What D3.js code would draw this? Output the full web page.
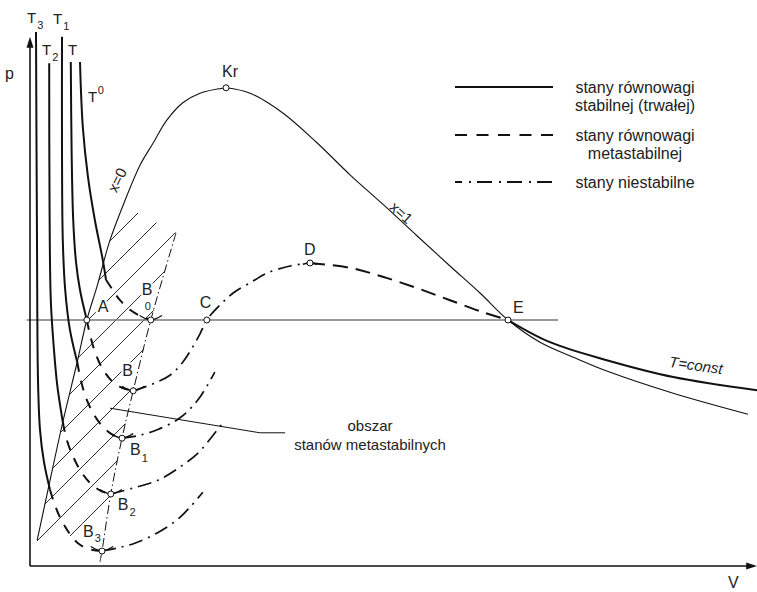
<!DOCTYPE html>
<html>
<head>
<meta charset="utf-8">
<script src="https://cdn.jsdelivr.net/npm/d3@7"></script>
<style>
  body { margin: 0; background: #fff; }
  svg { display: block; }
  text { font-family: "Liberation Sans", Arial, sans-serif; fill: #222; }
</style>
</head>
<body>
<svg id="chart" width="757" height="592"></svg>
<script>
// Schematic p–V diagram of a real fluid: van der Waals isotherms,
// saturation curve (x=0 / x=1) and the region of metastable states.
// Units are arbitrary: V along the horizontal axis, p along the vertical one.

const satPressure = 41;            // pressure of the straight line A – C – E
const axisEndV = 90.9;             // arrow tip of the V axis
const axisEndP = 88.2;             // arrow tip of the p axis

// saturation curve
const liquidLine = [[0.9,4.3],[2.25,12.7],[4.1,24],[5.9,34],[7.1,41],[8.4,46.7],[10,54.3],
  [11.9,61],[13.75,66.8],[15.4,70.5],[17.1,74.3],[19.1,77.2],[21.25,78.8],[24.5,79.7]];
const vapourLine = [[24.5,79.7],[27.5,78.8],[31.6,75.5],[35.9,70.5],[40,65.2],[44.1,60.3],
  [48.4,55],[52.5,50],[56.25,45.5],[59.75,41],[63.75,37.3],[68.1,34.7],[72.1,32.5],[80.4,28.8],[89.75,25.3]];

// isotherm T3
const t3Stable   = [[0.75,89],[0.88,52.7],[1,31],[1.25,22.7],[1.75,17.3],[2.5,12.7]];
const t3Meta     = [[2.5,12.7],[3.1,10.2],[3.9,7.7],[4.9,5.5],[6,3.8],[7.4,2.8],[9,2.5]];
const t3Unstable = [[9,2.5],[10.9,3],[13.1,3.8],[15.9,5.5],[18.4,7.7],[20,9.8],[21.6,12.3]];
// isotherm T2
const t2Stable   = [[2.4,83.8],[2.44,61],[2.6,44.3],[3,36],[3.4,30.2],[4.1,24]];
const t2Meta     = [[4.1,24],[4.6,21],[5.4,18.2],[6.4,15.7],[7.6,13.7],[8.9,12.5],[10.1,12]];
const t2Unstable = [[10.1,12],[12.9,13],[16,14.3],[18.75,16.5],[20.9,18.7],[22.6,21.3],[24,23.7]];
// isotherm T1
const t1Stable   = [[4,88.2],[4,69.3],[4.1,54.3],[4.4,46],[5,39.3],[5.9,34]];
const t1Meta     = [[5.9,34],[6.4,30.7],[7.1,27.7],[8.1,25],[9.25,23],[10.4,21.8],[11.5,21.3]];
const t1Unstable = [[11.5,21.3],[13.4,21.7],[15.9,22.7],[18.75,24.7],[21,27.7],[23.1,32.3]];
// isotherm T (the full van der Waals loop)
const tStable       = [[5.1,84],[5.2,69.3],[5.4,57.7],[5.75,50.7],[6.25,46],[7.1,41]];
const tMeta         = [[7.1,41],[7.6,38],[8.25,35.2],[9.1,32.8],[10.25,30.8],[11.5,29.7],[12.9,29.2]];
const tUnstable     = [[12.9,29.2],[15.25,30.3],[17.5,31.8],[19,33.8],[20.25,36.3],[21.25,38.7],[22.1,41],
  [23.75,43.5],[25.4,45.5],[27.9,47.5],[29.6,48.8],[32.5,50],[35,50.5]];
const tMetaVapour   = [[35,50.5],[40,49.7],[44.1,48.2],[48.4,46.3],[52.5,44.3],[56.6,42.3],[59.75,41]];
const tStableVapour = [[59.75,41],[65,37.3],[72.1,34.3],[80.4,31.5],[90.9,29.3]];
// isotherm T0
const t0Stable = [[6.25,84],[6.6,73.2],[7.25,64.8],[8.1,57.7],[9.1,51],[9.5,47.7]];
const t0Meta   = [[9.5,47.7],[10.25,46.2],[11.25,44.3],[12.5,42.7],[13.75,41.7],[15.1,41]];

// locus of the minima B0 … B3 (limit of the metastable region)
const spinodal = [[18.25,55.5],[15.1,41],[12.9,29.2],[11.5,21.3],[10.1,12],[9,2.5],[8.75,0.7]];

// hatching of the metastable region
const hatchSegments = [
  [[10,54.17],[13.5,58.83]], [[8.575,47.6],[15.8,57.23]], [[7.09,40.78],[18.19,55.58]],
  [[5.99,34.67],[16.89,49.18]], [[4.93,28.57],[15.48,42.63]], [[3.84,22.28],[14.19,36.08]],
  [[2.85,16.3],[13,29.83]], [[1.86,10.32],[11.93,23.73]], [[0.875,4.17],[10.95,17.6]],
  [[5,5],[10.19,11.92]]
];
const leaderLine = [[10,26.3],[28.75,22.2],[31.9,22.2]];

// named points: label, V, p
const keyPoints = [["Kr",24.5,79.7],["A",7.1,41],["B0",15.1,41],["C",22.1,41],["D",35,50.5],
  ["E",59.75,41],["B",12.9,29.2],["B1",11.5,21.3],["B2",10.1,12],["B3",9,2.5]];
const minimaNames = ["B0","B","B1","B2","B3"];

// legend
const legendItems = [
  {lines: ["stany równowagi", "stabilnej (trwałej)"], style: "stable"},
  {lines: ["stany równowagi", "metastabilnej"], style: "meta"},
  {lines: ["stany niestabilne"], style: "unstable"}
];

const svg = d3.select("#chart");
const x = d3.scaleLinear().domain([0, 90]).range([30, 750]);
const y = d3.scaleLinear().domain([0, 92]).range([566, 14]);

const smooth = d3.line().x(d => x(d[0])).y(d => y(d[1])).curve(d3.curveCatmullRom.alpha(0.5));
const straight = d3.line().x(d => x(d[0])).y(d => y(d[1]));
const natural = d3.line().x(d => x(d[0])).y(d => y(d[1])).curve(d3.curveNatural);

const styles = {
  stable:   {w: 2,   dash: null},
  meta:     {w: 2,   dash: "10,9"},
  metaLong: {w: 2,   dash: "15,8"},
  unstable: {w: 1.7, dash: "14,6,2,6"},
  thin:     {w: 1.1, dash: null}
};

function draw(data, style, gen = smooth, color = "#111") {
  svg.append("path")
    .attr("d", gen(data))
    .attr("fill", "none")
    .attr("stroke", color)
    .attr("stroke-width", style.w)
    .attr("stroke-dasharray", style.dash);
}

// hatching
hatchSegments.forEach(s => draw(s, {w: 0.9, dash: null}, straight));

// saturation curve
draw(liquidLine, styles.thin);
draw(vapourLine, styles.thin);

// line of constant saturation pressure
svg.append("line")
  .attr("x1", x(-0.4)).attr("x2", x(66))
  .attr("y1", y(satPressure)).attr("y2", y(satPressure))
  .attr("stroke", "#7a7a7a").attr("stroke-width", 1.6);

// limit of metastable states
draw(spinodal, {w: 1, dash: "9,3,1.5,3"});

// leader to the region label
draw(leaderLine, {w: 1, dash: null}, straight);

// isotherms
[t3Stable, t2Stable, t1Stable, tStable, t0Stable, tStableVapour].forEach(d => draw(d, styles.stable));
[t3Meta, t2Meta, t1Meta, tMeta, t0Meta].forEach(d => draw(d, styles.meta));
draw(tMetaVapour, styles.metaLong);
[t3Unstable, t2Unstable, t1Unstable, tUnstable].forEach(d => draw(d, styles.unstable));

// short solid arcs through the minima and the maximum D
const pt = name => keyPoints.find(k => k[0] === name);
minimaNames.forEach(n => {
  const [, v, p] = pt(n);
  draw([[v - 1.4, p + 0.75], [v, p], [v + 1.4, p + 0.75]], {w: 1.4, dash: null}, natural);
});
{
  const [, v, p] = pt("D");
  draw([[v - 0.9, p - 0.2], [v, p], [v + 0.9, p - 0.2]], {w: 1.4, dash: null}, natural);
}

// axes with arrows
const ax = svg.append("g").attr("stroke", "#111").attr("stroke-width", 1.6);
ax.append("line").attr("x1", x(0)).attr("y1", y(0)).attr("x2", x(axisEndV) - 6).attr("y2", y(0));
ax.append("line").attr("x1", x(0)).attr("y1", y(0)).attr("x2", x(0)).attr("y2", y(axisEndP) + 6);
svg.append("path")
  .attr("d", `M${x(axisEndV)},${y(0)} l-11,-3.5 l0,7 Z`).attr("fill", "#111");
svg.append("path")
  .attr("d", `M${x(0)},${y(axisEndP)} l-3.5,11 l7,0 Z`).attr("fill", "#111");

// point markers
svg.selectAll("circle.pt").data(keyPoints).join("circle")
  .attr("class", "pt")
  .attr("cx", d => x(d[1])).attr("cy", d => y(d[2])).attr("r", 3)
  .attr("fill", "#fff").attr("stroke", "#111").attr("stroke-width", 1);

// text helpers
function label(px, py, main, sub, opts = {}) {
  const t = svg.append("text")
    .attr("x", px).attr("y", py)
    .attr("font-size", opts.size || 16);
  if (opts.halo) t.attr("stroke", "#fff").attr("stroke-width", 4).attr("paint-order", "stroke").attr("stroke-linejoin", "round");
  t.append("tspan").text(main);
  if (sub) t.append("tspan").attr("font-size", 11).attr("dx", opts.subDx || 1).attr("dy", opts.subDy || 6).text(sub);
  return t;
}

// labels of the named points, placed relative to the points
const at = name => { const k = pt(name); return [x(k[1]), y(k[2])]; };
{ const [px, py] = at("Kr"); label(px - 4, py - 11, "Kr"); }
{ const [px, py] = at("A");  label(px + 11, py - 8, "A", null, {halo: true}); }
{ const [px, py] = at("C");  label(px - 7, py - 12, "C"); }
{ const [px, py] = at("D");  label(px - 6, py - 8, "D"); }
{ const [px, py] = at("E");  label(px + 5, py - 7, "E"); }
{ const [px, py] = at("B0"); label(px - 9, py - 25, "B", null, {halo: true});
                             label(px - 6, py - 10, "0", null, {size: 11, halo: true}); }
{ const [px, py] = at("B");  label(px - 11, py - 15, "B", null, {halo: true}); }
{ const [px, py] = at("B1"); label(px + 8, py + 17, "B", "1", {halo: true, subDy: 7}); }
{ const [px, py] = at("B2"); label(px + 7, py + 16, "B", "2", {halo: true, subDy: 6}); }
{ const [px, py] = at("B3"); label(px - 19, py - 14, "B", "3", {halo: true, subDy: 5}); }

// isotherm names
label(27, 23, "T", "3", {size: 15, subDy: 6});
label(53, 24, "T", "1", {size: 15, subDy: 6});
label(42, 55, "T", "2", {size: 15, subDy: 6});
label(68, 55, "T", null, {size: 15});
{
  const t = label(88, 102, "T", null, {size: 15});
  t.append("tspan").attr("font-size", 11).attr("dx", 0.5).attr("dy", -8).text("0");
}

// axis names
label(5, 79, "p");
label(728, 588, "V");

// names of curves, written along them
function along(cx, cy, angle, txt, italic, baseDy) {
  const t = svg.append("text")
    .attr("transform", `translate(${cx},${cy}) rotate(${angle})`)
    .attr("text-anchor", "middle")
    .attr("font-size", 15).attr("font-style", italic ? "italic" : null)
    .text(txt);
  if (baseDy === undefined) t.attr("dominant-baseline", "central");
  else t.attr("y", baseDy);
}
along(117, 180, -64, "x=0");
{
  // sits on the vapour branch of the saturation curve
  const v = 45.9, p = 58.1;
  along(x(v), y(p), 42, "x=1", false, -1);
}
along(696, 365, 8, "T=const", true);

// region label
svg.append("text").attr("x", 370).attr("y", 431).attr("text-anchor", "middle").attr("font-size", 15).text("obszar");
svg.append("text").attr("x", 370).attr("y", 450).attr("text-anchor", "middle").attr("font-size", 15).text("stanów metastabilnych");

// legend
const legendY = [87, 135, 182];
const legendDash = {stable: null, meta: "12,9.5", unstable: "15,7,2,6"};
const lg = svg.append("g");
legendItems.forEach((item, i) => {
  lg.append("line")
    .attr("x1", 455).attr("x2", 553).attr("y1", legendY[i]).attr("y2", legendY[i])
    .attr("stroke", "#111").attr("stroke-width", 2)
    .attr("stroke-dasharray", legendDash[item.style])
    .attr("stroke-dashoffset", item.style === "unstable" ? 8 : 0);
  item.lines.forEach((ln, j) => {
    lg.append("text")
      .attr("x", 635).attr("y", legendY[i] + 5.5 + j * 18)
      .attr("text-anchor", "middle").attr("font-size", 16)
      .text(ln);
  });
});
</script>
</body>
</html>
